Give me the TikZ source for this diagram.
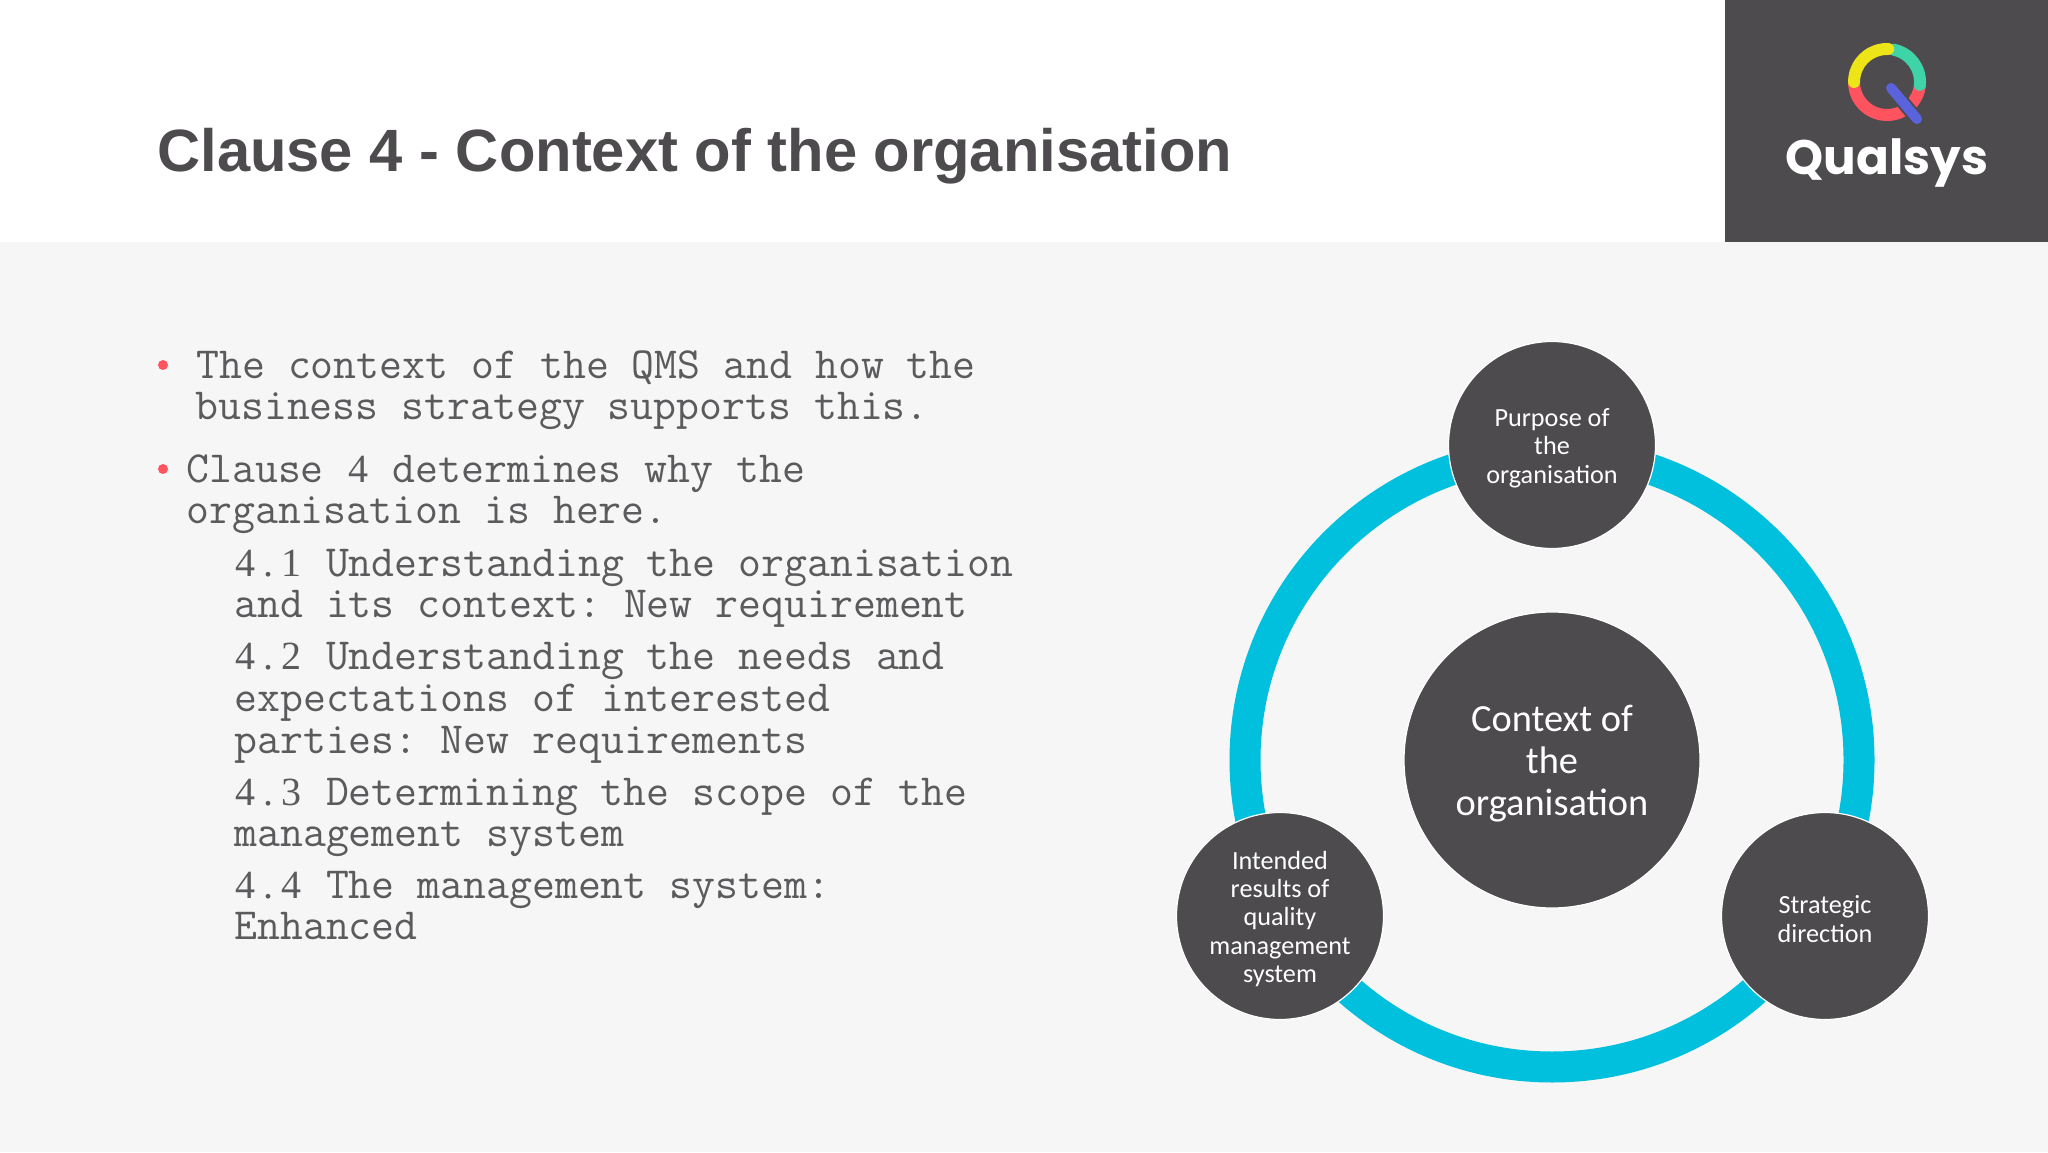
\documentclass[tikz,border=0pt]{standalone}
\usepackage{fontspec}
\setmainfont{Carlito}
\newfontfamily\titlefont{Liberation Sans}
\newfontfamily\digitfont{Liberation Serif}
\newfontfamily\logofont{Poppins}
\usetikzlibrary{calc}
\definecolor{my-dark}{HTML}{4D4B4E}
\definecolor{my-paper}{HTML}{F6F6F7}
\definecolor{my-ringblue}{HTML}{00C0DE}
\definecolor{my-red}{HTML}{FF5460}
\definecolor{my-yellow}{HTML}{EDE518}
\definecolor{my-green}{HTML}{3FD3A8}
\definecolor{my-blue}{HTML}{5B63DC}
\newcommand{\numcell}[1]{\makebox[11.45pt]{\fontsize{20}{20}\digitfont #1}}
\newcommand{\smallstrut}{\rule{0pt}{12pt}}
\newcommand{\bigstrut}{\rule{0pt}{16.5pt}}
\tikzset{
    my-body/.style={
        anchor=base west, inner sep=0pt, align=left, text=my-dark!92!white,
        font=\ttfamily\frenchspacing\fontsize{22.25}{20.9}\selectfont
    },
    my-bullet/.style={
        fill=my-red, shape=circle, minimum size=10pt, inner sep=0pt, scale=.5
    },
    my-bubble/.style={
        fill=my-dark, draw=white, line width=.6pt, shape=circle, minimum size=103.5pt,
        inner sep=0pt, align=center, text=white,
        font=\fontsize{13.1}{14.2}\selectfont
    },
    my-logoarc/.style={
        line width=6pt, line cap=round
    },
}

\begin{document}
\begin{tikzpicture}[x=.5pt, y=.5pt]

        % SLIDE BACKGROUND ----------------------------------------------------------------------------
        \useasboundingbox (0, 0) rectangle (2048, 1152);
        \fill[my-paper] (0, 0) rectangle (2048, 1152);
        \fill[white]    (0, 910) rectangle (2048, 1152);
        \fill[my-dark]  (1725, 910) rectangle (2048, 1152);

        % TITLE
        \node[anchor=base west, inner sep=0pt, text=my-dark] (TITLE) at (157, 980)
            {\titlefont\bfseries\fontsize{29.85}{36}\selectfont Clause 4 - Context of the organisation};

        % LOGO ----------------------------------------------------------------------------------------
        \coordinate[] (LOGO) at (1887, 1070);
        \draw[my-logoarc, my-red]    ($(LOGO) + (183:33)$) arc (183:355:33);
        \draw[my-logoarc, my-green]  ($(LOGO) + (78:33)$)  arc (78:-5:33);
        \draw[my-logoarc, my-yellow] ($(LOGO) + (180:33)$) arc (180:88:33);
        \coordinate[] (BARTOP) at ($(LOGO) + (4, -6)$);
        \coordinate[] (BAREND) at ($(LOGO) + (30, -37)$);
        \draw[line width=7pt, my-dark] (BARTOP) -- (BAREND);
        \draw[line width=5pt, line cap=round, my-blue] (BARTOP) -- (BAREND);
        \node[anchor=base, inner sep=0pt, text=white] (LOGOTEXT) at (1887, 977)
            {\logofont\bfseries\fontsize{24.2}{30}\selectfont Qualsys};

        % BULLET LIST ---------------------------------------------------------------------------------
        \node[my-bullet] (BUL1) at (163, 787) {};
        \node[my-bullet] (BUL2) at (163, 683) {};

        \node[my-body] (P1)  at (196, 773)                     {The context of the QMS and how the};
        \node[my-body] (P1B) at ($(P1.base west) + (-1, -41)$) {business strategy supports this.};
        \node[my-body] (P2)  at (186, 669)                     {Clause \numcell{4} determines why the};
        \node[my-body] (P2B) at ($(P2.base west) + (0, -41)$)  {organisation is here.};

        % SUB CLAUSES
        \node[my-body] (S1)  at (234, 575)                     {\numcell{4}\numcell{.}\numcell{1} Understanding the organisation};
        \node[my-body] (S1B) at ($(S1.base west) + (0, -41)$)  {and its context: New requirement};
        \node[my-body] (S2)  at (234, 482)                     {\numcell{4}\numcell{.}\numcell{2} Understanding the needs and};
        \node[my-body] (S2B) at ($(S2.base west) + (0, -41)$)  {expectations of interested};
        \node[my-body] (S2C) at ($(S2.base west) + (0, -83)$)  {parties: New requirements};
        \node[my-body] (S3)  at (234, 347)                     {\numcell{4}\numcell{.}\numcell{3} Determining the scope of the};
        \node[my-body] (S3B) at ($(S3.base west) + (0, -41)$)  {management system};
        \node[my-body] (S4)  at (234, 254)                     {\numcell{4}\numcell{.}\numcell{4} The management system:};
        \node[my-body] (S4B) at ($(S4.base west) + (0, -41)$)  {Enhanced};

        % RING AND CIRCLES ----------------------------------------------------------------------------
        \coordinate[] (RING) at (1552, 392);
        \draw[line width=15.5pt, my-ringblue] (RING) circle (307);

        \node[my-bubble, minimum size=148pt, font=\fontsize{19.2}{21}\selectfont] (CONTEXT) at (RING)
            {\bigstrut Context of\\the\\organisation};
        \node[my-bubble] (PURPOSE)   at ($(RING) + (0, 315)$)     {\smallstrut Purpose of\\the\\organisation};
        \node[my-bubble] (INTENDED)  at ($(RING) + (-272, -156)$) {\smallstrut Intended\\results of\\quality\\management\\system};
        \node[my-bubble] (STRATEGIC) at ($(RING) + (273, -156)$)  {\smallstrut Strategic\\direction};

    \end{tikzpicture}
\end{document}
